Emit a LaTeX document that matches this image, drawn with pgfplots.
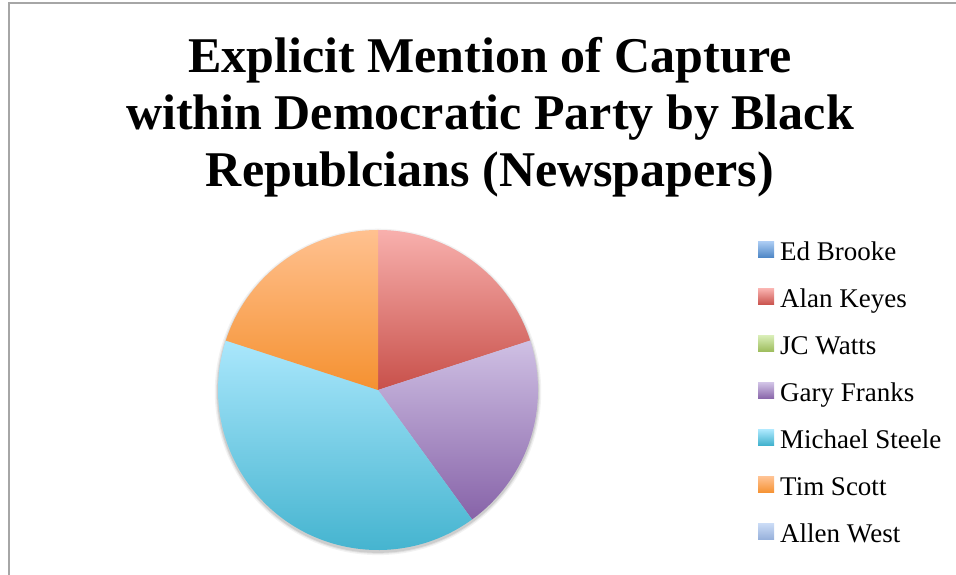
\documentclass[border=0pt]{standalone}
\usepackage{pgfplots}
\usepackage{pgfplotstable}
\pgfplotsset{compat=1.18}
\usepackage{fontspec}
\setmainfont{Liberation Serif}

\definecolor{top0}{HTML}{A9CAF2}\definecolor{bot0}{HTML}{4A84C4}
\definecolor{top1}{HTML}{F8B0AD}\definecolor{bot1}{HTML}{C8504A}
\definecolor{top2}{HTML}{D7ECB4}\definecolor{bot2}{HTML}{9BBB59}
\definecolor{top3}{HTML}{CFC0E4}\definecolor{bot3}{HTML}{8763A8}
\definecolor{top4}{HTML}{AAE7FC}\definecolor{bot4}{HTML}{3BAFCB}
\definecolor{top5}{HTML}{FFC190}\definecolor{bot5}{HTML}{F59130}
\definecolor{top6}{HTML}{C9DAF5}\definecolor{bot6}{HTML}{95AFDA}
\definecolor{framegray}{HTML}{A6A6A6}

% share of mentions per person
\pgfplotstableread{
name value
{Ed Brooke} 0
{Alan Keyes} 1
{JC Watts} 0
{Gary Franks} 1
{Michael Steele} 2
{Tim Scott} 1
{Allen West} 0
}\piedata

\begin{document}
\begin{tikzpicture}[x=1pt,y=1pt]
\path[use as bounding box] (0,0) rectangle (956,575);
\draw[framegray, line width=1.5pt] (9,-2) -- (9,572) -- (960,572);

% title
\node[anchor=base, font=\fontsize{50}{57}\selectfont\bfseries] at (490,502) {Explicit Mention of Capture};
\node[anchor=base, font=\fontsize{50}{57}\selectfont\bfseries] at (490,445) {within Democratic Party by Black};
\node[anchor=base, font=\fontsize{50}{57}\selectfont\bfseries] at (490,388) {Republcians (Newspapers)};

\begin{axis}[
  at={(378pt,185pt)}, anchor=origin,
  x=160pt, y=160pt,
  xmin=-1, xmax=1, ymin=-1, ymax=1,
  hide axis, clip=false,
]
\addplot[draw=none] coordinates {(0,0)};
% soft shadow
\foreach \r/\o in {1.02/0.05,1.012/0.07,1.006/0.09}{
  \edef\tmp{\noexpand\fill[black, opacity=\o] (axis cs:0,-0.012) circle[radius=\r*160pt];}\tmp
}
\pgfmathsetmacro\total{5}
\def\curang{90}
\pgfplotsforeachungrouped \i in {0,...,6}{
  \pgfplotstablegetelem{\i}{value}\of\piedata
  \let\v\pgfplotsretval
  \pgfmathsetmacro\sweep{360*\v/\total}
  \pgfmathsetmacro\endang{\curang-\sweep}
  \pgfmathsetmacro\xs{cos(\curang)}
  \pgfmathsetmacro\ys{sin(\curang)}
  \ifdim\sweep pt>0pt
    \edef\tmp{\noexpand\shade[top color=top\i, bottom color=bot\i] (axis cs:0,0) -- (axis cs:\xs,\ys) arc[start angle=\curang, end angle=\endang, radius=160pt] -- cycle;}
    \tmp
  \fi
  \global\let\curang\endang
}
\end{axis}

% legend
\foreach \k/\lab in {0/Ed Brooke,1/Alan Keyes,2/JC Watts,3/Gary Franks,4/Michael Steele,5/Tim Scott,6/Allen West}{
  \shade[top color=top\k, bottom color=bot\k] (758,{317-47*\k}) rectangle (774,{333-47*\k});
  \node[anchor=base west, inner sep=0pt, font=\fontsize{27}{31}\selectfont] at (780,{314-47*\k}) {\lab};
}
\end{tikzpicture}
\end{document}
